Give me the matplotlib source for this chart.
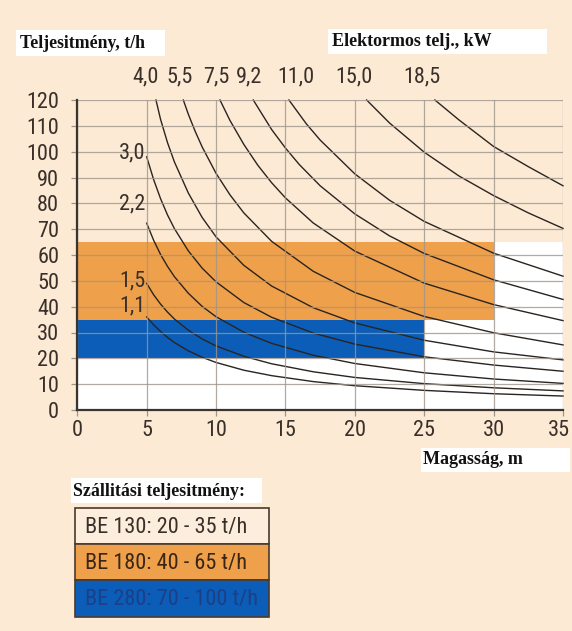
import matplotlib
matplotlib.use("Agg")
import matplotlib.pyplot as plt
from matplotlib import font_manager
from matplotlib.patches import Rectangle
from matplotlib.transforms import ScaledTranslation

# ---------------- data ----------------
x_ticks = [0, 5, 10, 15, 20, 25, 30, 35]
y_ticks = [0, 10, 20, 30, 40, 50, 60, 70, 80, 90, 100, 110, 120]

# power curves (kW) -> (height m, throughput t/h)
c11_x = [5, 5.5, 6, 6.5, 7, 8, 9, 10, 12, 14, 17, 20, 25, 30, 35]
c11_y = [36.0, 33.0, 30.4, 28.1, 26.1, 22.9, 20.4, 18.4, 15.4, 13.3, 11.0, 9.4, 7.6, 6.3, 5.4]
c15_x = [5, 5.5, 6, 6.5, 7, 8, 9, 10, 12, 14, 17, 20, 25, 30, 35]
c15_y = [49.0, 44.6, 41.0, 37.9, 35.2, 30.9, 27.5, 24.8, 20.8, 17.9, 14.8, 12.6, 10.2, 8.6, 7.4]
c22_x = [5, 5.5, 6, 6.5, 7, 8, 9, 10, 12, 14, 17, 20, 25, 30, 35]
c22_y = [72.3, 65.7, 60.2, 55.6, 51.6, 45.2, 40.1, 36.1, 30.1, 25.8, 21.2, 18.0, 14.4, 12.0, 10.3]
c30_x = [5, 5.5, 6, 6.5, 7, 8, 9, 10, 12, 14, 17, 20, 25, 30, 35]
c30_y = [98.0, 89.2, 81.8, 75.5, 70.2, 61.6, 54.9, 49.6, 41.6, 35.9, 29.8, 25.5, 20.6, 17.4, 15.0]
c40_x = [5.67, 6, 6.5, 7, 8, 9, 10, 12, 14, 17, 20, 25, 30, 35]
c40_y = [120, 112.5, 103.5, 96.0, 84.0, 74.5, 67.0, 56.0, 48.0, 39.6, 33.7, 27.0, 22.5, 19.4]
c55_x = [7.64, 8, 8.5, 9, 10, 11, 12, 14, 17, 20, 25, 30, 35]
c55_y = [120, 114.5, 107.8, 101.8, 91.6, 83.3, 76.3, 65.3, 53.7, 45.5, 36.2, 29.9, 25.2]
c75_x = [10.28, 11, 12, 13, 14, 15, 17, 20, 25, 30, 35]
c75_y = [120, 112.1, 102.8, 94.8, 88.0, 82.1, 72.4, 61.5, 49.1, 40.8, 34.6]
c92_x = [12.68, 14, 15, 16, 17.5, 20, 22.5, 25, 30, 35]
c92_y = [120, 108.6, 101.4, 95.0, 86.8, 75.9, 67.4, 60.6, 50.4, 42.8]
c110_x = [15.25, 16.5, 17.5, 20, 22.5, 25, 30, 35]
c110_y = [120, 110.8, 104.5, 91.4, 81.2, 73.0, 60.7, 51.8]
c150_x = [20.85, 22.5, 25, 27.5, 30, 32.5, 35]
c150_y = [120, 111.1, 99.8, 90.6, 83.0, 76.3, 70.3]
c185_x = [25.77, 27.5, 30, 32.5, 35]
c185_y = [120, 112.3, 102.0, 94.2, 86.8]

curves_x = [c11_x, c15_x, c22_x, c30_x, c40_x, c55_x, c75_x, c92_x, c110_x, c150_x, c185_x]
curves_y = [c11_y, c15_y, c22_y, c30_y, c40_y, c55_y, c75_y, c92_y, c110_y, c150_y, c185_y]

left_labels = ["3,0", "2,2", "1,5", "1,1"]
left_label_y = [99.7, 79.6, 50.0, 40.3]
top_labels = ["4,0", "5,5", "7,5", "9,2", "11,0", "15,0", "18,5"]
top_label_x = [3.94, 6.4, 9.1, 11.4, 14.4, 18.6, 23.5]

# ranges of the three models (height limit, t/h)
white_zone = (35, 65)
orange_zone = (30, 35, 65)   # x max, y min, y max
blue_zone = (25, 20, 35)

legend_title = "Szállitási teljesitmény:"
legend_rows = ["BE 130: 20 - 35 t/h", "BE 180: 40 - 65 t/h", "BE 280: 70 - 100 t/h"]

# ---------------- fonts ----------------
names = {f.name for f in font_manager.fontManager.ttflist}
narrow_name = None
for cand in ["Liberation Sans Narrow", "Arial Narrow", "Roboto Condensed",
             "DejaVu Sans Condensed", "Open Sans Condensed"]:
    if cand in names:
        narrow_name = cand
        break
if narrow_name is not None:
    NARROW = [narrow_name, "DejaVu Sans"]
    NSIZE = 16
else:
    NARROW = ["Liberation Sans", "DejaVu Sans"]
    NSIZE = 14
SERIF = ["Liberation Serif", "DejaVu Serif"]

# ---------------- style ----------------
BG = "#FCEAD5"
ORANGE = "#EFA04A"
BLUE = "#0B5DB7"
GRID = "#9E958C"
TXT = "#3A302A"

W, H = 572, 631
fig = plt.figure(figsize=(W / 100, H / 100), dpi=100, facecolor=BG)

x0, x1, y0, y1 = 77.3, 563, 100, 410
ax = fig.add_axes([x0 / W, (H - y1) / H, (x1 - x0) / W, (y1 - y0) / H])
ax.set_facecolor(BG)
ax.set_xlim(0, 35)
ax.set_ylim(0, 120)

ax.add_patch(Rectangle((0, 0), white_zone[0], white_zone[1], facecolor="white", edgecolor="none", zorder=0.5))
ax.add_patch(Rectangle((0, orange_zone[1]), orange_zone[0], orange_zone[2] - orange_zone[1],
                       facecolor=ORANGE, edgecolor="none", zorder=0.6))
ax.add_patch(Rectangle((0, blue_zone[1]), blue_zone[0], blue_zone[2] - blue_zone[1],
                       facecolor=BLUE, edgecolor="none", zorder=0.6))

ax.set_xticks(x_ticks)
ax.set_yticks(y_ticks)
ax.grid(True, color=GRID, linewidth=0.9, alpha=0.8, zorder=1)
ax.set_axisbelow(False)
for sp in ["top", "right"]:
    ax.spines[sp].set_visible(False)
for sp in ["left", "bottom"]:
    ax.spines[sp].set_color("#3B332E")
    ax.spines[sp].set_linewidth(1.6)
    ax.spines[sp].set_zorder(3)

ax.tick_params(axis="both", colors=GRID, length=4, width=0.9, labelcolor=TXT)
ax.tick_params(axis="y", pad=9)
ax.tick_params(axis="x", pad=3)
for lab in ax.get_xticklabels() + ax.get_yticklabels():
    lab.set_fontfamily(NARROW)
    lab.set_fontsize(NSIZE)
# keep the last x label inside the figure
last = ax.get_xticklabels()[-1]
last.set_transform(last.get_transform() + ScaledTranslation(-4 / 100, 0, fig.dpi_scale_trans))

for cx, cy in zip(curves_x, curves_y):
    ax.plot(cx, cy, color="#2A2420", linewidth=1.0, zorder=2, clip_on=False)

for lab, ly in zip(left_labels, left_label_y):
    ax.text(4.9, ly, lab, ha="right", va="center", fontsize=NSIZE, family=NARROW, color=TXT, zorder=4)
for lab, lx in zip(top_labels, top_label_x):
    ax.text(lx, 129.1, lab, ha="left", va="center", fontsize=NSIZE, family=NARROW, color=TXT, clip_on=False)

# ---------------- header / axis title boxes ----------------
def px_box(xa, ya, xb, yb, color="white", ec="none", lw=0):
    fig.patches.append(Rectangle((xa / W, 1 - yb / H), (xb - xa) / W, (yb - ya) / H,
                                 transform=fig.transFigure, facecolor=color, edgecolor=ec,
                                 linewidth=lw, zorder=1))

def px_text(x, y, s, **kw):
    fig.text(x / W, 1 - y / H, s, **kw)

px_box(16, 30, 165, 56)
px_text(20, 44, "Teljesitmény, t/h", ha="left", va="center", fontsize=12.8, fontweight="bold",
        family=SERIF, color="#111111")
px_box(328, 29, 547, 54)
px_text(332, 42, "Elektormos telj., kW", ha="left", va="center", fontsize=13, fontweight="bold",
        family=SERIF, color="#111111")
px_box(421, 448, 570, 472)
px_text(423, 460, "Magasság, m", ha="left", va="center", fontsize=13, fontweight="bold",
        family=SERIF, color="#111111")

# ---------------- legend table ----------------
px_box(71, 478, 262, 503)
px_text(73, 491, legend_title, ha="left", va="center", fontsize=12.9, fontweight="bold",
        family=SERIF, color="#111111")

row_cols = ["#FCEDDC", ORANGE, BLUE]
row_txt = [TXT, "#3A2616", "#1C3F86"]
row_edges = [508, 544, 580, 617]
for i, (lab, rc, tc) in enumerate(zip(legend_rows, row_cols, row_txt)):
    ya, yb = row_edges[i], row_edges[i + 1]
    px_box(75, ya, 269, yb, color=rc, ec="#4A3A2E", lw=1.2)
    px_text(85, (ya + yb) / 2 + 1, lab, ha="left", va="center", fontsize=NSIZE, family=NARROW, color=tc)

fig.savefig("out.png", dpi=100, facecolor=BG)
